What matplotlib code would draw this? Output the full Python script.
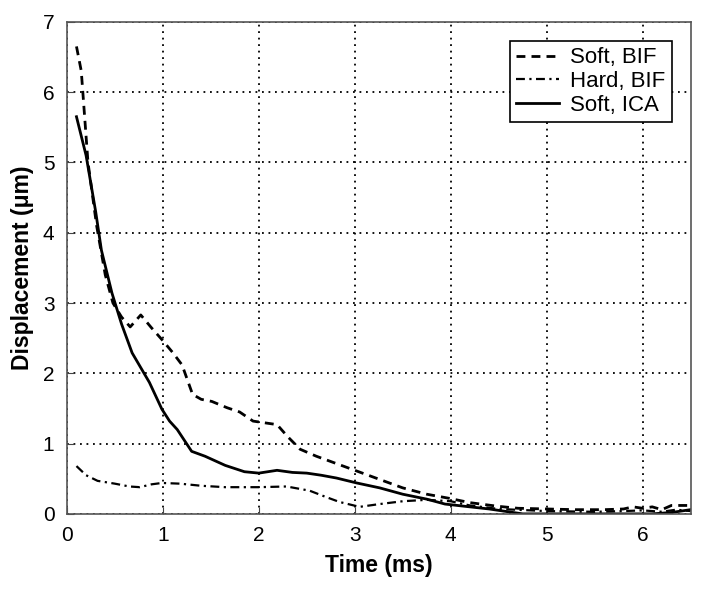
import matplotlib
matplotlib.use("Agg")
import matplotlib.pyplot as plt

plt.rcParams['font.family'] = ['Liberation Sans', 'DejaVu Sans']

# Soft, BIF (dashed)
t_soft_bif = [0.1, 0.15, 0.22, 0.31, 0.4, 0.48, 0.57, 0.66, 0.77, 0.88, 0.99, 1.1, 1.2, 1.31,
              1.4, 1.51, 1.67, 1.8, 1.94, 2.19, 2.3, 2.43, 2.6, 2.8, 3.0, 3.26, 3.5, 3.75,
              3.99, 4.2, 4.48, 4.7, 5.0, 5.3, 5.6, 5.8, 5.9, 6.0, 6.1, 6.2, 6.3, 6.5]
d_soft_bif = [6.65, 6.3, 5.0, 4.1, 3.4, 3.0, 2.8, 2.66, 2.83, 2.65, 2.48, 2.3, 2.12, 1.70,
              1.63, 1.6, 1.51, 1.45, 1.32, 1.27, 1.1, 0.92, 0.82, 0.72, 0.62, 0.49, 0.37, 0.28,
              0.22, 0.16, 0.11, 0.08, 0.07, 0.06, 0.06, 0.07, 0.1, 0.08, 0.1, 0.06, 0.12, 0.12]

# Hard, BIF (dash-dot)
t_hard_bif = [0.1, 0.2, 0.32, 0.5, 0.65, 0.76, 0.88, 0.99, 1.18, 1.4, 1.65, 2.0, 2.29, 2.53,
              2.7, 2.84, 3.05, 3.26, 3.5, 3.75, 4.0, 4.2, 4.5, 5.0, 5.5, 5.8, 6.0, 6.2, 6.35, 6.5]
d_hard_bif = [0.68, 0.55, 0.47, 0.43, 0.39, 0.38, 0.42, 0.44, 0.43, 0.40, 0.38, 0.38, 0.39, 0.33,
              0.24, 0.17, 0.10, 0.14, 0.18, 0.2, 0.18, 0.12, 0.07, 0.04, 0.03, 0.04, 0.05, 0.03, 0.06, 0.04]

# Soft, ICA (solid)
t_soft_ica = [0.1, 0.2, 0.3, 0.36, 0.47, 0.57, 0.68, 0.77, 0.86, 0.99, 1.07, 1.15, 1.30, 1.44,
              1.65, 1.85, 2.0, 2.19, 2.35, 2.5, 2.65, 2.81, 3.02, 3.26, 3.5, 3.75, 3.94, 4.2,
              4.4, 4.65, 4.75, 6.1, 6.3, 6.5]
d_soft_ica = [5.65, 5.1, 4.3, 3.75, 3.14, 2.7, 2.29, 2.08, 1.87, 1.49, 1.32, 1.2, 0.89, 0.82,
              0.69, 0.6, 0.58, 0.62, 0.59, 0.58, 0.55, 0.51, 0.44, 0.37, 0.28, 0.21, 0.14, 0.1,
              0.07, 0.02, 0.0, 0.0, 0.02, 0.06]

fig = plt.figure(figsize=(7.04, 5.90), dpi=100)
ax = fig.add_axes([0.095, 0.129, 0.886, 0.834])

ax.plot(t_soft_bif, d_soft_bif, color='black', lw=2, linestyle=(0, (3.2, 2.2)), label='Soft, BIF')
ax.plot(t_hard_bif, d_hard_bif, color='black', lw=1.6, linestyle=(0, (4, 2, 1, 2)), label='Hard, BIF')
ax.plot(t_soft_ica, d_soft_ica, color='black', lw=2, label='Soft, ICA')

ax.set_xlim(0, 6.5)
ax.set_ylim(0, 7)
ax.set_xticks(range(0, 7))
ax.set_yticks(range(0, 8))
ax.grid(True, color='black', linestyle=(0, (1, 2.6)), linewidth=1.3)
ax.tick_params(direction='in', labelsize=15, length=5, color='#444444', pad=9)
for s in ax.spines.values():
    s.set_color('#555555')
    s.set_linewidth(1.2)

ax.set_xlabel('Time (ms)', fontsize=16.5, fontweight='bold', labelpad=6)
ax.set_ylabel('Displacement (\u03bcm)', fontsize=16.5, fontweight='bold', labelpad=6)

leg = ax.legend(loc='upper right', fontsize=16, fancybox=False, framealpha=1,
                edgecolor='black', handlelength=1.9, borderaxespad=0.85, labelspacing=0.12,
                handletextpad=0.5, borderpad=0.3)
leg.get_frame().set_linewidth(1.2)

fig.savefig('out.png', dpi=100)
